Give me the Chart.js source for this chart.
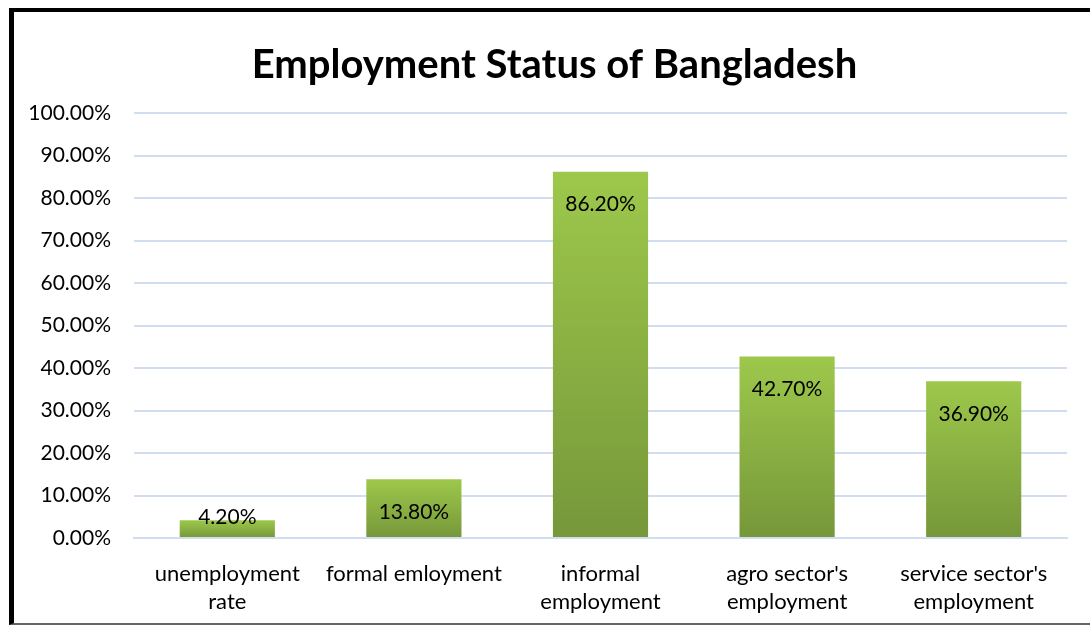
<!DOCTYPE html>
<html>
<head>
<meta charset="utf-8">
<script src="https://cdn.jsdelivr.net/npm/chart.js@4.4.0/dist/chart.umd.min.js"></script>
<style>
  html, body { margin: 0; padding: 0; background: #fff; }
  #frame {
    position: absolute; left: 9px; top: 8px;
    width: 1076px; height: 611px;
    border-left: 5px solid #000; border-top: 4px solid #000; border-bottom: 2px solid #666;
    background: #fff;
  }
  canvas { display: block; }
</style>
</head>
<body>
<div id="frame"><canvas id="grafico" width="1076" height="611"></canvas></div>
<script>
const categorias = [
  ["unemployment", "rate"],
  "formal emloyment",
  ["informal", "employment"],
  ["agro sector's", "employment"],
  ["service sector's", "employment"]
];
const valores = [4.2, 13.8, 86.2, 42.7, 36.9];
const ticksY = [0, 10, 20, 30, 40, 50, 60, 70, 80, 90, 100];

const FONTE = "Lato, 'Open Sans', sans-serif";

// gradiente por barra (claro em cima, escuro embaixo)
function corBarra(c) {
  const chart = c.chart;
  if (!chart.chartArea) return "#8db443";
  const y = chart.scales.y;
  const topo = y.getPixelForValue(c.raw);
  const base = y.getPixelForValue(0);
  const g = chart.ctx.createLinearGradient(0, topo, 0, base);
  g.addColorStop(0, "#9dc84b");
  g.addColorStop(1, "#76973a");
  return g;
}

// rótulos dentro das barras
const rotulos = {
  id: "rotulos",
  afterDatasetsDraw(chart) {
    const ctx = chart.ctx;
    const meta = chart.getDatasetMeta(0);
    ctx.save();
    ctx.font = "21px " + FONTE;
    ctx.fillStyle = "#000";
    ctx.textAlign = "center";
    ctx.textBaseline = "middle";
    meta.data.forEach((bar, i) => {
      const y = Math.min(bar.y + 33, bar.base - 20);
      ctx.fillText(valores[i].toFixed(2) + "%", bar.x, y);
    });
    ctx.restore();
  }
};

// centraliza o título um pouco mais à direita (como no original)
const ajusteTitulo = {
  id: "ajusteTitulo",
  afterLayout(chart) {
    const t = chart.titleBlock;
    if (t) { t.left = 28; t.width = t.right - t.left; }
  }
};

new Chart(document.getElementById("grafico"), {
  type: "bar",
  data: {
    labels: categorias,
    datasets: [{
      data: valores,
      backgroundColor: corBarra,
      borderWidth: 0,
      barPercentage: 0.51,
      categoryPercentage: 1
    }]
  },
  options: {
    responsive: false,
    animation: false,
    layout: { padding: { left: 0, right: 23, top: 0, bottom: 0 } },
    plugins: {
      legend: { display: false },
      tooltip: { enabled: false },
      title: {
        display: true,
        text: "Employment Status of Bangladesh",
        color: "#000",
        font: { family: FONTE, size: 40, weight: "bold", lineHeight: 1.2 },
        padding: { top: 29, bottom: 24 }
      }
    },
    scales: {
      x: {
        grid: { display: false, drawTicks: false },
        border: { display: true, color: "#d0def0", width: 2 },
        ticks: { color: "#000", padding: 22, maxRotation: 0, autoSkip: false,
                 font: { family: FONTE, size: 22, lineHeight: 1.27 } },
        afterFit: s => { s.height = 85; }
      },
      y: {
        min: 0, max: 100,
        afterBuildTicks: s => { s.ticks = ticksY.map(v => ({ value: v })); },
        grid: { color: "#d0def0", lineWidth: 2, drawTicks: false },
        border: { display: false },
        ticks: { color: "#000", padding: 23, font: { family: FONTE, size: 21 },
                 callback: v => v.toFixed(2) + "%" },
        afterFit: s => { s.width = 120; }
      }
    }
  },
  plugins: [rotulos, ajusteTitulo]
});
</script>
</body>
</html>
